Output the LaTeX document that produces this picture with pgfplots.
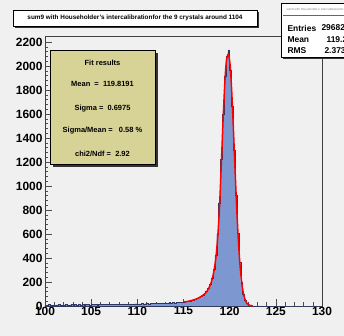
\documentclass[border=0pt]{standalone}
\usepackage{pgfplots}
\pgfplotsset{compat=1.18}
\usepackage{fontspec}
\setmainfont{Liberation Sans}
\definecolor{bgc}{RGB}{240,240,240}
\definecolor{histfill}{RGB}{125,152,208}
\definecolor{histline}{RGB}{45,55,95}
\definecolor{khaki}{RGB}{215,210,150}
\begin{document}
\begin{tikzpicture}[x=1bp,y=1bp]
\useasboundingbox (0,0) rectangle (344,336);
\fill[bgc] (0,0) rectangle (344,336);
\begin{axis}[
  at={(45bp,30bp)}, anchor=south west,
  scale only axis, width=277bp, height=270bp,
  xmin=100, xmax=130, ymin=0, ymax=2250,
  xtick={100,105,...,130}, ytick={0,200,...,2200},
  minor x tick num=4, minor y tick num=4,
  tick align=inside, xtick pos=bottom, ytick pos=left,
  major tick length=7bp, minor tick length=3.5bp,
  tick style={black!70, line width=0.4pt},
  axis line style={black!75, line width=0.6pt},
  scaled y ticks=false,
  /pgf/number format/1000 sep={},
  /pgf/number format/assume math mode=true,
  ticklabel style={font=\fontsize{12}{12}\selectfont\bfseries},
  xticklabel style={inner sep=0pt, yshift=-0.5bp},
  yticklabel style={inner sep=0pt, xshift=-2.3bp},
  axis background/.style={fill=bgc},
  clip=true,
]
\addplot[const plot, fill=histfill, draw=histline, line width=0.4pt] coordinates {
(100.0,9) (100.2,7) (100.4,11) (100.6,8) (100.8,10) (101.0,6) (101.2,9) (101.4,12) (101.6,8) (101.8,10)
(102.0,9) (102.2,11) (102.4,7) (102.6,10) (102.8,12) (103.0,9) (103.2,11) (103.4,8) (103.6,13) (103.8,10)
(104.0,11) (104.2,9) (104.4,12) (104.6,14) (104.8,10) (105.0,12) (105.2,11) (105.4,13) (105.6,9) (105.8,12)
(106.0,14) (106.2,11) (106.4,13) (106.6,12) (106.8,15) (107.0,12) (107.2,14) (107.4,13) (107.6,16) (107.8,12)
(108.0,15) (108.2,14) (108.4,17) (108.6,13) (108.8,16) (109.0,15) (109.2,18) (109.4,14) (109.6,17) (109.8,19)
(110.0,16) (110.2,18) (110.4,20) (110.6,17) (110.8,19) (111.0,21) (111.2,18) (111.4,22) (111.6,20) (111.8,23)
(112.0,21) (112.2,24) (112.4,22) (112.6,25) (112.8,23) (113.0,27) (113.2,24) (113.4,28) (113.6,26) (113.8,30)
(114.0,27) (114.2,31) (114.4,29) (114.6,33) (114.8,31) (115.0,35) (115.2,37) (115.4,40) (115.6,44) (115.8,48)
(116.0,52) (116.2,58) (116.4,64) (116.6,72) (116.8,81) (117.0,92) (117.2,106) (117.4,124) (117.6,148) (117.8,180)
(118.0,230) (118.2,310) (118.4,420) (118.6,600) (118.8,856) (119.0,1221) (119.2,1598) (119.4,1915) (119.6,2080) (119.8,2135)
(120.0,1966) (120.2,1669) (120.4,1298) (120.6,927) (120.8,606) (121.0,364) (121.2,200) (121.4,101) (121.6,47) (121.8,20)
(122.0,8) (122.2,3) (122.4,1) (122.6,2) (122.8,0) (123.0,1) (123.2,0) (123.4,1) (123.6,0) (123.8,0)
(124.0,1) (124.2,0) (125.0,0) (126.0,0) (127.0,0) (128.0,0) (129.0,0) (130.0,0)
} \closedcycle;
\addplot[smooth, red, line width=1.5bp] coordinates {
(115.0,33) (115.5,39) (116.0,49) (116.5,62) (117.0,84) (117.3,101) (117.6,130) (117.9,175)
(118.1,222) (118.3,292) (118.5,398) (118.7,565) (118.9,825) (119.1,1190) (119.3,1575) (119.5,1895)
(119.65,2040) (119.82,2095) (119.95,2070) (120.1,1960) (120.3,1665) (120.5,1295) (120.7,925)
(120.9,605) (121.1,362) (121.3,198) (121.5,100) (121.7,47) (121.9,20) (122.1,8) (122.3,3) (122.5,1)
};
\end{axis}
% title box
\fill[black!80] (15,308) rectangle (259,324);
\draw[black, line width=0.6pt, fill=white] (13,310) rectangle (257,326);
\node[font=\fontsize{6.4}{7}\selectfont\bfseries] at (135,318) {sum9 with Householder's intercalibrationfor the 9 crystals around 1104};
% stats box
\fill[black!80] (283,277) rectangle (350,331);
\draw[black, line width=0.6pt, fill=white] (281,279) rectangle (350,333);
\draw[black!60, line width=0.4pt] (283,321) -- (350,321);
\node[font=\fontsize{3}{3}\selectfont, text=black!50, anchor=west] at (283,327) {sum9 with Householder's intercalibrationfor the 9};
\node[font=\fontsize{8.5}{9}\selectfont\bfseries, anchor=west] at (284,308) {Entries};
\node[font=\fontsize{8.5}{9}\selectfont\bfseries, anchor=west] at (284,296) {Mean};
\node[font=\fontsize{8.5}{9}\selectfont\bfseries, anchor=west] at (284,285) {RMS};
\node[font=\fontsize{8.5}{9}\selectfont\bfseries, anchor=west] at (318,308) {29682};
\node[font=\fontsize{8.5}{9}\selectfont\bfseries, anchor=west] at (323,296) {119.2};
\node[font=\fontsize{8.5}{9}\selectfont\bfseries, anchor=west] at (321,285) {2.373};
% fit results box
\fill[black!80] (53,169) rectangle (158,283);
\draw[black, line width=0.6pt, fill=khaki] (50,172) rectangle (155,286);
\begin{scope}[every node/.style={font=\fontsize{7.5}{8}\selectfont\bfseries}]
\node at (102.5,273) {Fit results};
\node at (102.5,252) {Mean \ = \ 119.8191};
\node at (102.5,227) {Sigma = \ 0.6975};
\node at (102.5,205) {Sigma/Mean = \ \ 0.58 \%};
\node at (102.5,182) {chi2/Ndf = \ 2.92};
\end{scope}
\end{tikzpicture}
\end{document}
